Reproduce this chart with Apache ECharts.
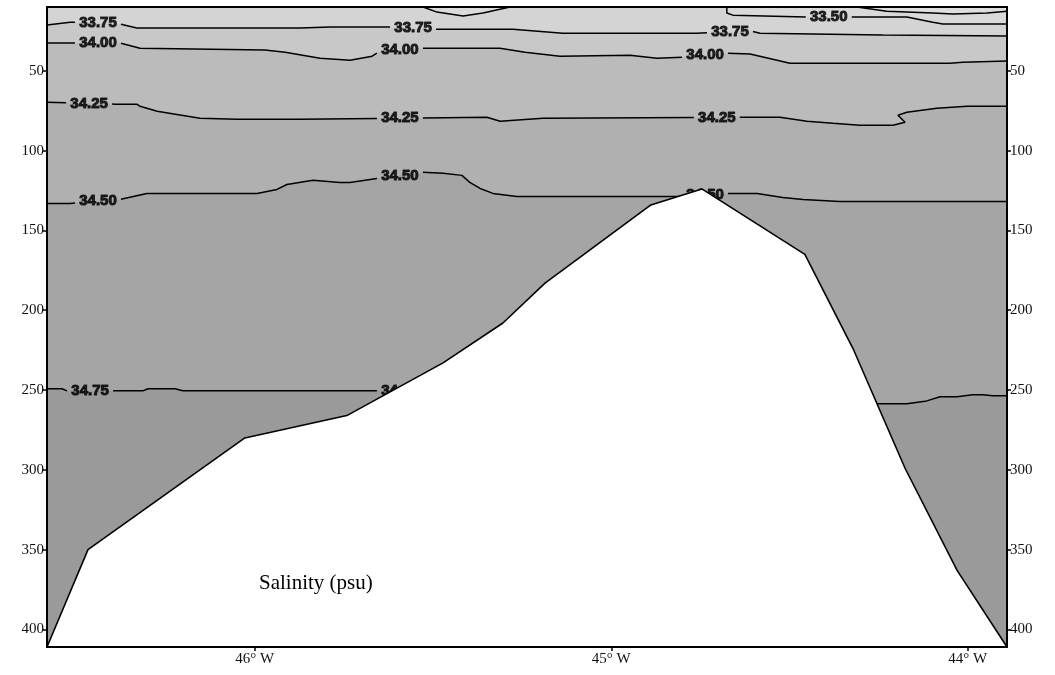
<!DOCTYPE html>
<html>
<head>
<meta charset="utf-8">
<script src="https://cdn.jsdelivr.net/npm/echarts@6/dist/echarts.min.js"></script>
<style>
html,body{margin:0;padding:0;background:#fff;}
#c{width:1055px;height:675px;}
</style>
</head>
<body>
<div id="c"></div>
<script>
// ---- tick labels ----
const lonTicks = [46, 45, 44];
const depthTicks = [50, 100, 150, 200, 250, 300, 350, 400];

// ---- bathymetry (lon °W, depth m) ----
const seafloor = [[46.583,411],[46.468,350],[46.028,280],[45.742,266],[45.472,233],[45.304,208],
  [45.186,183],[44.889,134],[44.746,124],[44.457,165],[44.322,224],[44.176,299],[44.030,363],[43.890,411]];

// ---- isohalines (lon °W, depth m) ----
const iso3325 = [[44.311,10.0],[44.227,12.6],[44.098,13.8],[44.042,14.4],[43.946,13.8],[43.890,12.6]];
const iso3350a = [[45.528,10.0],[45.489,13.2],[45.416,15.7],[45.360,13.8],[45.284,10.0]];
const iso3350b = [[44.676,10.0],[44.676,13.8],[44.659,15.1],[44.451,16.3],[44.171,16.3],[44.098,19.5],[44.070,20.7],[43.890,20.7]];
const iso3375 = [[46.583,21.3],[46.518,19.5],[46.378,20.7],[46.331,23.2],[45.873,23.2],[45.789,22.6],[45.621,22.6],
  [45.495,23.9],[45.276,23.9],[45.136,26.4],[44.760,26.4],[44.606,25.1],[44.583,26.4],[44.238,27.6],[43.890,28.2]];
const iso3400 = [[46.583,32.6],[46.378,32.6],[46.322,35.8],[45.972,37.0],[45.915,38.3],[45.817,42.1],[45.733,43.3],
  [45.671,40.8],[45.649,37.7],[45.523,35.8],[45.312,35.8],[45.242,38.3],[45.144,40.8],[44.948,40.2],[44.872,42.1],
  [44.799,41.4],[44.673,38.9],[44.611,39.5],[44.535,43.3],[44.499,45.2],[44.050,45.2],[44.014,44.6],[43.890,43.9]];
const iso3425 = [[46.583,69.7],[46.392,70.9],[46.331,70.9],[46.322,72.2],[46.274,75.3],[46.154,79.7],[46.050,80.4],
  [45.873,80.4],[45.349,79.1],[45.312,81.6],[45.192,79.7],[44.611,79.1],[44.527,79.1],[44.451,81.6],[44.378,82.9],
  [44.303,84.1],[44.210,84.1],[44.176,82.2],[44.196,77.8],[44.171,76.0],[44.087,73.4],[44.002,72.2],[43.890,72.2]];
const iso3450 = [[46.583,133.1],[46.518,133.1],[46.378,130.6],[46.303,126.8],[45.994,126.8],[45.938,124.3],
  [45.910,121.2],[45.837,118.6],[45.761,119.9],[45.733,119.9],[45.655,117.4],[45.528,113.6],[45.472,114.2],
  [45.419,115.5],[45.397,119.9],[45.368,123.7],[45.332,126.8],[45.265,128.7],[44.807,128.7],[44.676,126.8],
  [44.591,126.8],[44.519,129.3],[44.462,130.6],[44.359,131.8],[43.890,131.8]];
const iso3475 = [[46.583,249.2],[46.541,249.2],[46.527,250.5],[46.392,250.5],[46.314,250.5],[46.300,249.2],
  [46.224,249.2],[46.202,250.5],[45.537,250.5],[44.246,258.6],[44.171,258.6],[44.115,256.8],[44.078,254.2],
  [44.030,254.2],[43.986,253.0],[43.958,253.0],[43.930,253.6],[43.890,253.6]];

// ---- contour label positions (lon °W) ----
const lab3350 = [44.390];
const lab3375 = [46.440, 45.556, 44.667];
const lab3400 = [46.440, 45.593, 44.737];
const lab3425 = [46.465, 45.593, 44.704];
const lab3450 = [46.440, 45.593, 44.737];
const lab3475 = [46.462, 45.593];

// ---- setup ----
const X_MIN = 43.890, X_MAX = 46.583, Y_MIN = 10, Y_MAX = 411;
const GAP = (X_MAX - X_MIN) * 23 / 960;

const fills = [
  { pts: iso3350a, origin: 'start', color: '#dbdbdb' },
  { pts: iso3350b, origin: 'start', color: '#d9d9d9' },
  { pts: iso3325, origin: 'start', color: '#dedede' },
  { pts: iso3375, origin: 'end', color: '#c8c8c8' },
  { pts: iso3400, origin: 'end', color: '#bbbbbb' },
  { pts: iso3425, origin: 'end', color: '#b0b0b0' },
  { pts: iso3450, origin: 'end', color: '#a5a5a5' },
  { pts: iso3475, origin: 'end', color: '#9a9a9a' }
];
const contours = [
  { pts: iso3325, labels: [], level: 33.25 },
  { pts: iso3350a, labels: [], level: 33.50 },
  { pts: iso3350b, labels: lab3350, level: 33.50 },
  { pts: iso3375, labels: lab3375, level: 33.75 },
  { pts: iso3400, labels: lab3400, level: 34.00 },
  { pts: iso3425, labels: lab3425, level: 34.25 },
  { pts: iso3450, labels: lab3450, level: 34.50 },
  { pts: iso3475, labels: lab3475, level: 34.75 }
];

function strokeData(pts, labs, h) {
  const out = [];
  const inGap = x => labs.some(c => Math.abs(x - c) < h);
  let pen = false;
  for (let i = 0; i < pts.length - 1; i++) {
    const [x0, y0] = pts[i], [x1, y1] = pts[i + 1];
    const ts = [0, 1];
    labs.forEach(c => [c - h, c + h].forEach(e => {
      if (x1 !== x0) { const t = (e - x0) / (x1 - x0); if (t > 0 && t < 1) ts.push(t); }
    }));
    ts.sort((a, b) => a - b);
    for (let k = 0; k < ts.length - 1; k++) {
      const ta = ts[k], tb = ts[k + 1];
      if (tb - ta < 1e-9) continue;
      const tm = (ta + tb) / 2;
      const pa = [x0 + (x1 - x0) * ta, y0 + (y1 - y0) * ta];
      const pb = [x0 + (x1 - x0) * tb, y0 + (y1 - y0) * tb];
      if (inGap(x0 + (x1 - x0) * tm)) {
        if (pen) { out.push(['-', '-']); pen = false; }
      } else {
        if (!pen) { out.push(pa); pen = true; }
        out.push(pb);
      }
    }
  }
  return out;
}
function depthAt(pts, lon) {
  for (let i = 0; i < pts.length - 1; i++) {
    const [x0, y0] = pts[i], [x1, y1] = pts[i + 1];
    if ((lon - x0) * (lon - x1) <= 0 && x0 !== x1) {
      return y0 + (y1 - y0) * (lon - x0) / (x1 - x0);
    }
  }
  return pts[0][1];
}

const series = [];
fills.forEach((f, i) => {
  series.push({
    type: 'line', data: f.pts, symbol: 'none', showSymbol: false, silent: true,
    lineStyle: { width: 0, opacity: 0 },
    areaStyle: { color: f.color, opacity: 1, origin: f.origin },
    z: 1 + i, animation: false
  });
});
contours.forEach(c => {
  series.push({
    type: 'line', data: strokeData(c.pts, c.labels, GAP), symbol: 'none', showSymbol: false,
    silent: true, connectNulls: false,
    lineStyle: { color: '#000', width: 1.5 }, z: 20, animation: false
  });
});
const labelData = [];
contours.forEach(c => c.labels.forEach(l => {
  labelData.push({ value: [l, depthAt(c.pts, l)], name: c.level.toFixed(2) });
}));
series.push({
  type: 'scatter', data: labelData, symbolSize: 0, silent: true, z: 21, animation: false,
  label: {
    show: true, position: 'inside', formatter: '{b}', color: '#000',
    fontFamily: 'Liberation Sans', fontWeight: 'bold', fontSize: 15,
    textBorderColor: '#000', textBorderWidth: 1
  }
});
series.push({
  type: 'line', data: seafloor, symbol: 'none', showSymbol: false, silent: true,
  lineStyle: { color: '#000', width: 1.6 },
  areaStyle: { color: '#ffffff', opacity: 1, origin: 'end' },
  z: 22, animation: false
});

const tickFont = { fontFamily: 'Liberation Serif', fontSize: 15, color: '#111' };
const axisLineStyle = { show: true, onZero: false, lineStyle: { color: '#000', width: 2 } };

const option = {
  animation: false,
  backgroundColor: '#ffffff',
  title: {
    text: 'Salinity (psu)', left: 254, top: 568, z: 50,
    textStyle: { fontFamily: 'Liberation Serif', fontSize: 21, fontWeight: 'normal', color: '#000' }
  },
  grid: { left: 47, right: 48, top: 7, bottom: 28, show: true, backgroundColor: '#d4d4d4', borderWidth: 0 },
  xAxis: [
    {
      type: 'value', min: X_MIN, max: X_MAX, inverse: true, position: 'bottom', z: 30,
      axisLine: axisLineStyle,
      axisTick: { show: true, customValues: lonTicks, length: 4, lineStyle: { color: '#000', width: 1.5 } },
      axisLabel: Object.assign({ customValues: lonTicks, margin: 5, formatter: v => v + '° W' }, tickFont),
      splitLine: { show: false }
    },
    {
      type: 'value', min: X_MIN, max: X_MAX, inverse: true, position: 'top', z: 30,
      axisLine: axisLineStyle, axisTick: { show: false }, axisLabel: { show: false }, splitLine: { show: false }
    }
  ],
  yAxis: [
    {
      type: 'value', min: Y_MIN, max: Y_MAX, inverse: true, position: 'left', z: 30,
      axisLine: axisLineStyle,
      axisTick: { show: true, customValues: depthTicks, length: 4, lineStyle: { color: '#000', width: 1.5 } },
      axisLabel: Object.assign({ customValues: depthTicks, margin: 3 }, tickFont),
      splitLine: { show: false }
    },
    {
      type: 'value', min: Y_MIN, max: Y_MAX, inverse: true, position: 'right', z: 30,
      axisLine: axisLineStyle,
      axisTick: { show: true, customValues: depthTicks, length: 4, lineStyle: { color: '#000', width: 1.5 } },
      axisLabel: Object.assign({ customValues: depthTicks, margin: 3 }, tickFont),
      splitLine: { show: false }
    }
  ],
  series: series
};

const chart = echarts.init(document.getElementById('c'), null, { renderer: 'canvas' });
chart.setOption(option);
</script>
</body>
</html>
